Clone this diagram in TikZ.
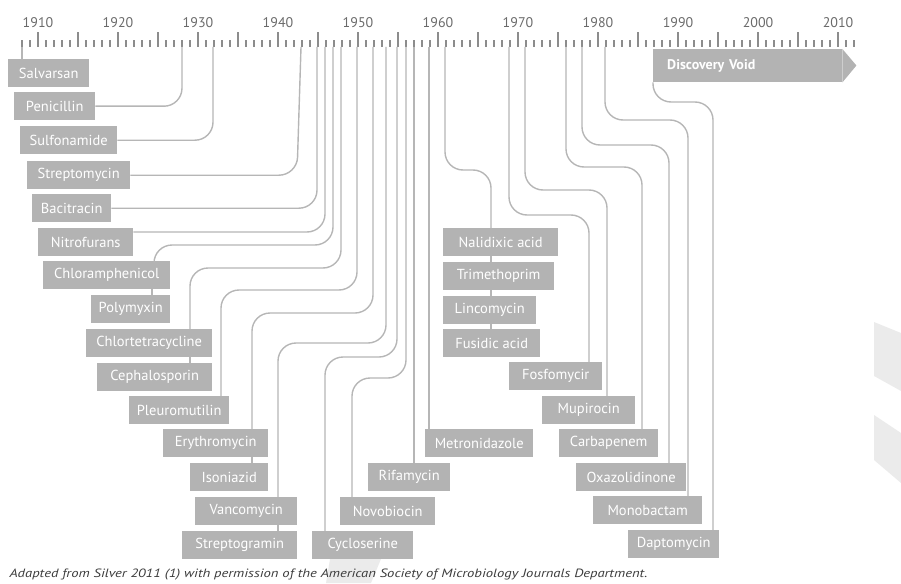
\documentclass[tikz,border=0pt]{standalone}
\usepackage{fontspec}
\setsansfont{PT Sans}
\usepackage{tikz}
\usetikzlibrary{calc}
\definecolor{boxgrey}{HTML}{B3B3B3}
\definecolor{linegrey}{HTML}{B6B6B6}
\definecolor{tickgrey}{HTML}{8C8C8C}
\definecolor{yeargrey}{HTML}{6A6A6A}
\definecolor{ghost}{HTML}{EBEBEB}
\definecolor{credit}{HTML}{3C3C3C}

\begin{document}
\begin{tikzpicture}[x=1pt,y=-1pt,
  drug/.style={fill=boxgrey,text=white,font=\sffamily\fontsize{14.5}{14.5}\selectfont,
    anchor=north west,minimum height=28pt,inner sep=0pt},
  link/.style={draw=linegrey,line width=1.4pt,rounded corners=18pt}]
  \useasboundingbox (0,0) rectangle (901,583);
  \fill[ghost] (874,322) -- (901,333) -- (901,391) -- (874,376) -- cycle;
  \fill[ghost] (874,415) -- (901,433) -- (901,483) -- (874,460) -- cycle;
  \fill[ghost] (330,559) -- (381,559) -- (371,583) -- (326,583) -- cycle;

  \foreach \yr in {1908,...,2012}{
    \pgfmathsetmacro\len{mod(\yr,5)==0 ? 15 : 7}
    \draw[tickgrey,line width=1.3pt] ({38+8*(\yr-1910)},47) -- ++(0,-\len);}
  \foreach \yr in {1910,1920,...,2010}
    \node[font=\sffamily\fontsize{14}{14}\selectfont,text=yeargrey] (lab\yr) at ({38+8*(\yr-1910)},23) {\yr};

  \foreach \n/\t/\x/\y/\w in {salv/Salvarsan/8/59/81, peni/Penicillin/14/92/81,
      sulf/Sulfonamide/20/126/97, strep/Streptomycin/27/161/103, baci/Bacitracin/32/194/79,
      nitro/Nitrofurans/38/228/95, chlor/Chloramphenicol/43/261/127, poly/Polymyxin/91/295/79,
      chlort/Chlortetracycline/86/329/126, ceph/Cephalosporin/97/363/115,
      pleu/Pleuromutilin/129/396/100, eryth/Erythromycin/163/429/105, isoni/Isoniazid/190/463/78,
      vanco/Vancomycin/195/497/102, strepg/Streptogramin/182/531/115,
      cyclo/Cycloserine/312/531/101, novo/Novobiocin/340/497/95, rifa/Rifamycin/368/463/82,
      metro/Metronidazole/425/429/108, nali/Nalidixic acid/443/228/115,
      trim/Trimethoprim/443/262/111, linc/Lincomycin/443/296/93, fusi/Fusidic acid/443/329/97,
      fosf/Fosfomycir/509/362/93, mupi/Mupirocin/542/396/93, carba/Carbapenem/559/429/99,
      oxa/Oxazolidinone/576/463/110, mono/Monobactam/593/496/109, dapto/Daptomycin/628/530/91}
    \node[drug,minimum width=\w pt] (\n) at (\x,\y) {\t};

  \node[drug,minimum width=189pt,minimum height=33pt,text width=161pt,align=left,
    inner xsep=14pt,font=\sffamily\bfseries\fontsize{14}{14}\selectfont] (void) at (653,49) {Discovery Void};
  \fill[boxgrey] (void.north east) -- ++(14,16.5) -- (void.south east) -- cycle;

  \draw[link] (22,47) -- (salv.north -| 22,0);
  \draw[link] (182,47) |- (peni.east);
  \draw[link] (213,47) |- (sulf.east);
  \draw[link] (301,47) -- (strep.east -| 297,0) -- (strep.east);
  \draw[link] (317,47) |- (baci.east);
  \draw[link] (325,47) |- ($(nitro.north east)+(0,4)$);
  \foreach \a/\h/\b/\n in {333/245/154/chlor, 341/268/190/chlort, 357/290/221/pleu,
      373/313/252/eryth, 386/343/278/vanco, 397/357/325/cyclo, 406/378/352/novo,
      445/170/491/nali, 509/215/589/fosf, 525/190/607/mupi, 566/167/642/carba,
      582/145/669/oxa, 605/120/688/mono}
    \draw[link] (\a,47) |- (\b,\h) -- (\n.north -| \b,0);
  \draw[link] (414,47) -- (rifa.north -| 414,0);
  \draw[link] (429,47) -- (metro.north -| 429,0);
  \draw[link] (void.south west) |- (713,102) -- (dapto.north -| 713,0);
  \foreach \p/\q/\x in {chlor/poly/152, chlort/ceph/190, eryth/isoni/252, vanco/strepg/278,
      nali/trim/491, trim/linc/491, linc/fusi/491}
    \draw[link] (\p.south -| \x,0) -- (\q.north -| \x,0);

  \node[anchor=west,font=\sffamily\itshape\fontsize{12}{12}\selectfont,text=credit] (src) at (6,575)
    {\scalebox{1.22}[1]{Adapted from Silver 2011 (1) with permission of the American Society of Microbiology Journals Department.}};
\end{tikzpicture}
\end{document}
